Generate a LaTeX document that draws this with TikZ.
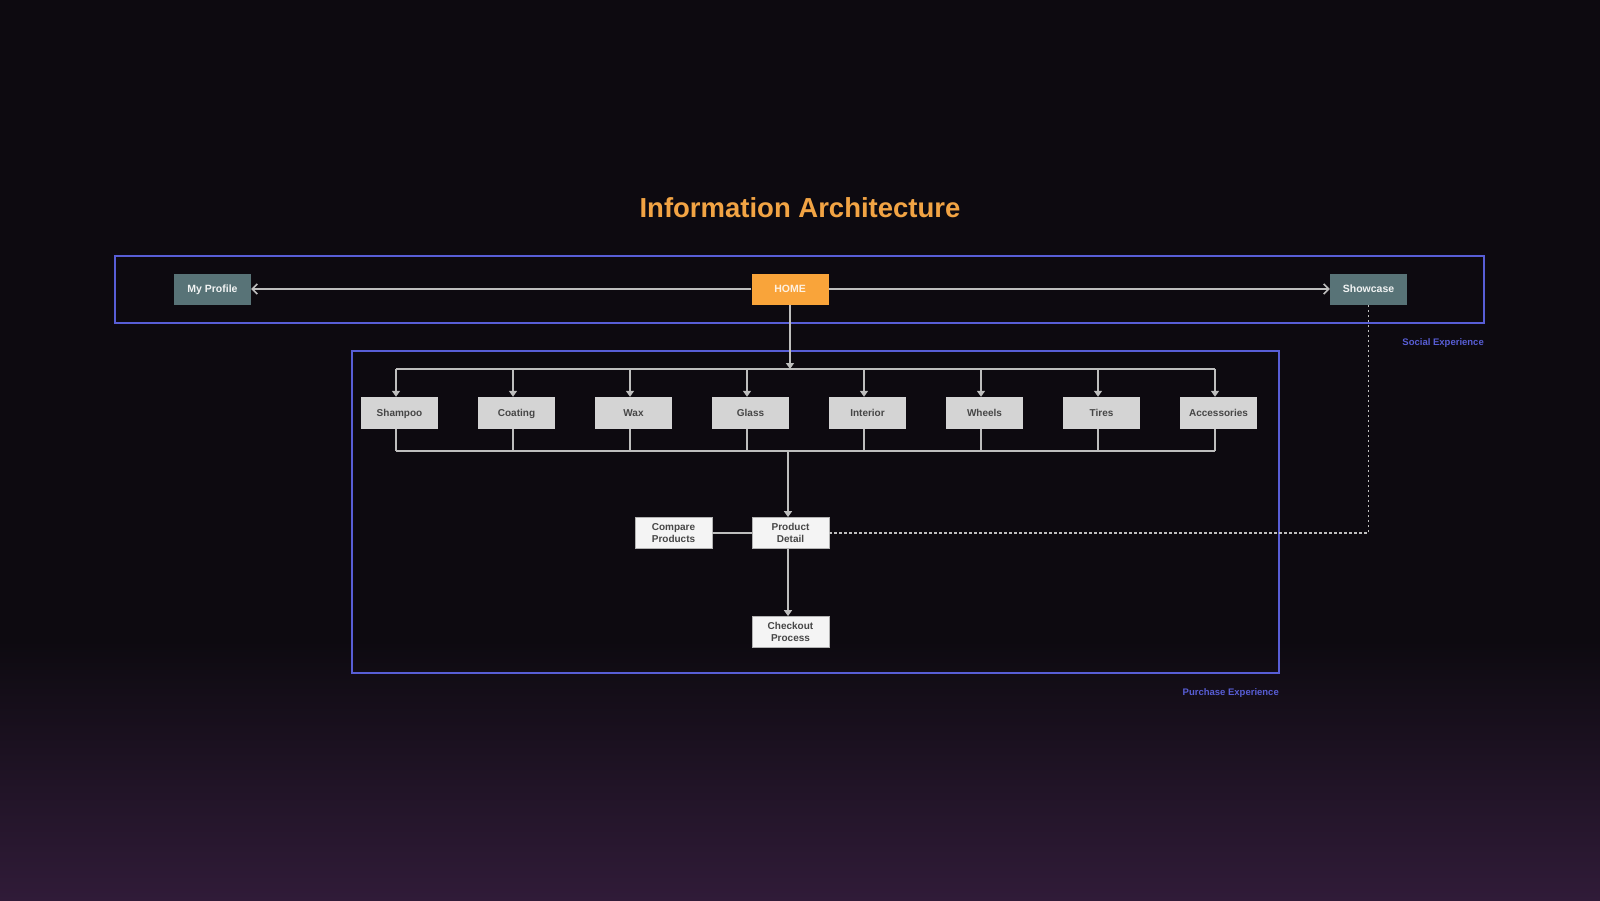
\documentclass[tikz,border=0pt]{standalone}
\usepackage{fontspec}
\setmainfont{Liberation Sans}
\usetikzlibrary{arrows.meta}
\definecolor{bgtop}{RGB}{13,10,16}
\definecolor{bgbot}{RGB}{48,27,56}
\definecolor{frameblue}{RGB}{88,94,214}
\definecolor{titleorange}{RGB}{242,164,68}
\definecolor{homeorange}{RGB}{249,164,58}
\definecolor{slate}{RGB}{88,115,119}
\definecolor{catgray}{RGB}{212,212,212}
\definecolor{pagewhite}{RGB}{244,244,244}
\definecolor{linegray}{RGB}{190,190,190}
\definecolor{boxtext}{RGB}{70,70,70}
\tikzset{
    navbox/.style={fill=slate, text=white!92!slate, font=\fontsize{10.5}{12}\selectfont\bfseries,
        minimum width=77pt, minimum height=31pt, inner sep=0pt, text height=7pt, text depth=0pt},
    homebox/.style={navbox, fill=homeorange, text=white!85!homeorange},
    catbox/.style={fill=catgray, text=boxtext, font=\fontsize{10}{12}\selectfont\bfseries,
        minimum width=77pt, minimum height=32pt, inner sep=0pt, text height=7pt, text depth=0pt},
    pagebox/.style={fill=pagewhite, text=boxtext, draw=gray!60, line width=0.8pt, align=center,
        minimum width=77pt, minimum height=31pt, inner sep=0pt,
        font=\fontsize{10}{11.5}\selectfont\bfseries},
    frame/.style={draw=frameblue, line width=1.6pt},
    framelabel/.style={text=frameblue, font=\fontsize{9.5}{11}\selectfont\bfseries, anchor=east, inner sep=0pt},
    conn/.style={draw=linegray, line width=1.6pt},
    tip/.style={conn, -{Triangle[width=8pt,length=6pt]}},
    barb/.style={conn, -{Straight Barb[width=10pt,length=5pt]}},
}
\begin{document}
\begin{tikzpicture}[x=1pt, y=-1pt]
    \useasboundingbox (0,0) rectangle (1600,900);
    % background
    \fill[bgtop] (0,0) rectangle (1600,641);
    \shade[top color=bgtop, bottom color=bgbot] (0,640) rectangle (1600,900);

    \node[text=titleorange, font=\fontsize{27.5}{32}\selectfont\bfseries] (title) at (800,208) {Information Architecture};

    % frames
    \draw[frame] (115,256) rectangle (1484,323);
    \node[framelabel] (social) at (1484,343) {Social Experience};
    \draw[frame] (352,351) rectangle (1279,673);
    \node[framelabel] (purchase) at (1279,693) {Purchase Experience};

    % top navigation
    \node[navbox] (profile) at (212.5,289) {My Profile};
    \node[homebox] (home) at (790,289) {HOME};
    \node[navbox] (showcase) at (1368.5,289) {Showcase};
    \draw[barb] (home) -- (profile);
    \draw[barb] (home) -- (showcase);

    % categories
    \node[catbox] (shampoo) at (399.5,413) {Shampoo};
    \node[catbox] (coating) at (516.5,413) {Coating};
    \node[catbox] (wax) at (633.5,413) {Wax};
    \node[catbox] (glass) at (750.5,413) {Glass};
    \node[catbox] (interior) at (867.5,413) {Interior};
    \node[catbox] (wheels) at (984.5,413) {Wheels};
    \node[catbox] (tires) at (1101.5,413) {Tires};
    \node[catbox] (accessories) at (1218.5,413) {Accessories};

    \coordinate (bustop) at (790,369);
    \coordinate (busbot) at (788,451);
    \draw[tip] (home) -- (bustop);
    \draw[conn] ([xshift=-3.5pt]shampoo.north |- bustop) -- ([xshift=-3.5pt]accessories.north |- bustop);
    \draw[conn] ([xshift=-3.5pt]shampoo.south |- busbot) -- ([xshift=-3.5pt]accessories.south |- busbot);
    \foreach \c in {shampoo,coating,wax,glass,interior,wheels,tires,accessories}{
        \draw[tip] ([xshift=-3.5pt]\c.north |- bustop) -- ([xshift=-3.5pt]\c.north);
        \draw[conn] ([xshift=-3.5pt]\c.south) -- ([xshift=-3.5pt]\c.south |- busbot);
    }

    % product pages
    \node[pagebox] (detail) at (790.5,533) {Product\\Detail};
    \node[pagebox] (compare) at (673.5,533) {Compare\\Products};
    \node[pagebox] (checkout) at (790.5,632) {Checkout\\Process};
    \draw[tip] (busbot) -- (busbot |- detail.north);
    \draw[conn] (compare) -- (detail);
    \draw[tip] (busbot |- detail.south) -- (busbot |- checkout.north);
    \draw[conn, dash pattern=on 2.5pt off 2.5pt] (detail.east) -| (showcase.south);
\end{tikzpicture}
\end{document}
